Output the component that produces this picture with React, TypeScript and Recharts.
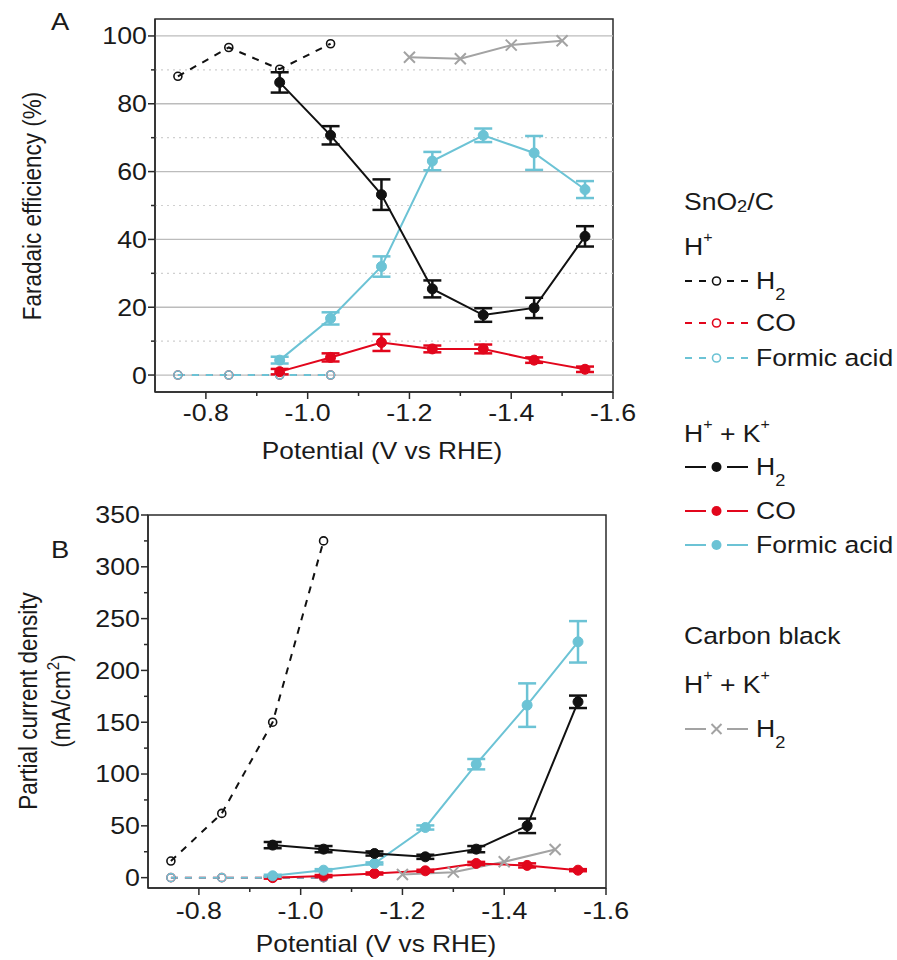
import React from "react";
import { LineChart, Line, XAxis, YAxis, ErrorBar, ReferenceLine, ReferenceArea } from "recharts";

const FONT = '"Liberation Sans", Arial, Helvetica, sans-serif';
const INK = "#1a1a1a";
const AXIS = "#2b2b2b";
const BLACK = "#111111";
const RED = "#e2061c";
const CYAN = "#6cc3d5";
const GREY = "#a3a3a3";
const GRID = "#bcbcbc";
const SX = 1.14; // the figure's lettering is a little wider than plain Arial

// potentials (V vs RHE)
const potentialAcid = [-0.745, -0.845, -0.945, -1.045];
const potentialK = [-0.945, -1.045, -1.145, -1.245, -1.345, -1.445, -1.545];
const potentialCarbon = [-1.2, -1.3, -1.4, -1.5];

const xTicks = [-0.8, -0.9, -1.0, -1.1, -1.2, -1.3, -1.4, -1.5, -1.6];
const feTicks = [0, 10, 20, 30, 40, 50, 60, 70, 80, 90, 100];
const feMajorGrid = [0, 20, 40, 60, 80, 100];
const feMinorGrid = [10, 30, 50, 70, 90];
const jTicks = [0, 25, 50, 75, 100, 125, 150, 175, 200, 225, 250, 275, 300, 325, 350];

// A - Faradaic efficiency (%)
const feH2Acid = [88.1, 96.6, 90.2, 97.7];
const feCOAcid = [0, 0, 0, 0];
const feFAAcid = [0, 0, 0, 0];
const feH2K = [86.3, 70.7, 53.2, 25.4, 17.7, 19.8, 40.9];
const feH2KErr = [3, 2.7, 4.5, 2.5, 2, 3, 3];
const feCOK = [1, 5.2, 9.6, 7.7, 7.7, 4.4, 1.7];
const feCOKErr = [0.8, 1.2, 2.5, 1, 1.3, 0.8, 0.8];
const feFAK = [4.4, 16.7, 32, 63.1, 70.7, 65.5, 54.7];
const feFAKErr = [1, 1.8, 3, 2.7, 2, 5, 2.5];
const feH2Carbon = [93.7, 93.3, 97.3, 98.6];

// B - partial current density (mA/cm2)
const jH2Acid = [16, 62, 150, 325];
const jCOAcid = [0, 0, 0, 0];
const jFAAcid = [0, 0, 0, 0];
const jH2K = [31.4, 27.5, 23.3, 20.1, 27.5, 50, 169.7];
const jH2KErr = [3, 3, 2, 2, 3, 7, 6];
const jCOK = [0, 1.5, 4, 6.6, 13.7, 11.8, 7.2];
const jCOKErr = [1, 1, 1, 1, 1.5, 2, 1];
const jFAK = [1.8, 7.2, 13.7, 48.4, 109.5, 166.5, 227.6];
const jFAKErr = [1, 1, 1, 2, 5, 21, 20];
const jH2Carbon = [3.1, 5.3, 15.3, 27.2];

const toRows = (xs: number[], ys: number[], errs?: number[]) =>
  xs.map((x, i) => ({ x, y: ys[i], err: errs ? errs[i] : 0 }));

const openDot = (color: string) => (p: any) => (
  <circle key={`o${p.index}`} cx={p.cx} cy={p.cy} r={4} fill="none" stroke={color} strokeWidth={1.6} />
);
const filledDot = (color: string) => (p: any) => (
  <circle key={`f${p.index}`} cx={p.cx} cy={p.cy} r={5} fill={color} stroke={color} strokeWidth={1} />
);
const crossDot = (color: string) => (p: any) => (
  <path
    key={`x${p.index}`}
    d={`M${p.cx - 5.5},${p.cy - 5.5}L${p.cx + 5.5},${p.cy + 5.5}M${p.cx + 5.5},${p.cy - 5.5}L${p.cx - 5.5},${p.cy + 5.5}`}
    stroke={color}
    strokeWidth={2}
    fill="none"
  />
);

// widened text, anchored at (x, y)
function WText({ x, y, size, anchor = "start", rotate = false, dy, children }: any) {
  const tf = `translate(${x},${y}) scale(${SX},1)${rotate ? " rotate(-90)" : ""}`;
  return (
    <text transform={tf} fontSize={size} textAnchor={anchor} dy={dy} fill={INK} fontFamily={FONT}>
      {children}
    </text>
  );
}

function renderXTick(p: any, labelDy: number) {
  const v = p.payload.value as number;
  const major = Math.round(Math.abs(v) * 10) % 2 === 0;
  return (
    <g key={`xt${v}`}>
      <line x1={p.x} x2={p.x} y1={p.y} y2={p.y + (major ? 7 : 4)} stroke={AXIS} strokeWidth={1.5} />
      {major && (
        <WText x={p.x} y={p.y + labelDy} size={23.5} anchor="middle">
          {v.toFixed(1)}
        </WText>
      )}
    </g>
  );
}

function renderYTick(p: any, majorStep: number) {
  const v = p.payload.value as number;
  const major = v % majorStep === 0;
  return (
    <g key={`yt${v}`}>
      <line x1={p.x} x2={p.x - (major ? 7 : 4)} y1={p.y} y2={p.y} stroke={AXIS} strokeWidth={1.5} />
      {major && (
        <WText x={p.x - 8} y={p.y} dy="0.36em" size={23.5} anchor="end">
          {v}
        </WText>
      )}
    </g>
  );
}

const axisLine = { stroke: AXIS, strokeWidth: 1.5 };

function PanelA() {
  return (
    <LineChart width={640} height={470} margin={{ top: 19, right: 27, bottom: 0, left: 0 }}>
      <XAxis
        dataKey="x"
        type="number"
        domain={[-1.6, -0.7]}
        reversed
        allowDataOverflow
        ticks={xTicks}
        interval={0}
        tick={(p: any) => renderXTick(p, 29)}
        tickLine={false}
        tickSize={0}
        tickMargin={0}
        axisLine={axisLine}
        height={78}
      />
      <YAxis
        type="number"
        domain={[-5, 105]}
        allowDataOverflow
        ticks={feTicks}
        interval={0}
        tick={(p: any) => renderYTick(p, 20)}
        tickLine={false}
        tickSize={0}
        tickMargin={0}
        axisLine={axisLine}
        width={155}
      />
      {feMajorGrid.map((v) => (
        <ReferenceLine key={`g${v}`} y={v} stroke={GRID} strokeWidth={1.3} />
      ))}
      {feMinorGrid.map((v) => (
        <ReferenceLine key={`m${v}`} y={v} stroke="#d0d0d0" strokeWidth={1.2} strokeDasharray="2 4" />
      ))}
      <ReferenceArea x1={-1.6} x2={-0.7} y1={-5} y2={105} fill="none" stroke={AXIS} strokeWidth={1.5} />

      {/* SnO2/C, H+ */}
      <Line data={toRows(potentialAcid, feCOAcid)} dataKey="y" stroke={RED} strokeWidth={2} strokeDasharray="7 7" dot={openDot(RED)} isAnimationActive={false} />
      <Line data={toRows(potentialAcid, feFAAcid)} dataKey="y" stroke={CYAN} strokeWidth={2} strokeDasharray="7 7" dot={openDot(CYAN)} isAnimationActive={false} />
      <Line data={toRows(potentialAcid, feH2Acid)} dataKey="y" stroke={BLACK} strokeWidth={2} strokeDasharray="7 7" dot={openDot(BLACK)} isAnimationActive={false} />

      {/* Carbon black, H+ + K+ */}
      <Line data={toRows(potentialCarbon, feH2Carbon)} dataKey="y" stroke={GREY} strokeWidth={2} dot={crossDot(GREY)} isAnimationActive={false} />

      {/* SnO2/C, H+ + K+ */}
      <Line data={toRows(potentialK, feCOK, feCOKErr)} dataKey="y" stroke={RED} strokeWidth={2} dot={filledDot(RED)} isAnimationActive={false}>
        <ErrorBar dataKey="err" direction="y" width={9} strokeWidth={2.5} stroke={RED} isAnimationActive={false} />
      </Line>
      <Line data={toRows(potentialK, feFAK, feFAKErr)} dataKey="y" stroke={CYAN} strokeWidth={2} dot={filledDot(CYAN)} isAnimationActive={false}>
        <ErrorBar dataKey="err" direction="y" width={9} strokeWidth={2.5} stroke={CYAN} isAnimationActive={false} />
      </Line>
      <Line data={toRows(potentialK, feH2K, feH2KErr)} dataKey="y" stroke={BLACK} strokeWidth={2} dot={filledDot(BLACK)} isAnimationActive={false}>
        <ErrorBar dataKey="err" direction="y" width={9} strokeWidth={2.5} stroke={BLACK} isAnimationActive={false} />
      </Line>
    </LineChart>
  );
}

function PanelB() {
  return (
    <LineChart width={640} height={480} margin={{ top: 35, right: 34, bottom: 0, left: 0 }}>
      <XAxis
        dataKey="x"
        type="number"
        domain={[-1.6, -0.7]}
        reversed
        allowDataOverflow
        ticks={xTicks}
        interval={0}
        tick={(p: any) => renderXTick(p, 31)}
        tickLine={false}
        tickSize={0}
        tickMargin={0}
        axisLine={axisLine}
        height={72}
      />
      <YAxis
        type="number"
        domain={[-10, 350]}
        allowDataOverflow
        ticks={jTicks}
        interval={0}
        tick={(p: any) => renderYTick(p, 50)}
        tickLine={false}
        tickSize={0}
        tickMargin={0}
        axisLine={axisLine}
        width={148}
      />
      <ReferenceArea x1={-1.6} x2={-0.7} y1={-10} y2={350} fill="none" stroke={AXIS} strokeWidth={1.5} />

      <Line data={toRows(potentialAcid, jCOAcid)} dataKey="y" stroke={RED} strokeWidth={2} strokeDasharray="7 7" dot={openDot(RED)} isAnimationActive={false} />
      <Line data={toRows(potentialAcid, jFAAcid)} dataKey="y" stroke={CYAN} strokeWidth={2} strokeDasharray="7 7" dot={openDot(CYAN)} isAnimationActive={false} />
      <Line data={toRows(potentialAcid, jH2Acid)} dataKey="y" stroke={BLACK} strokeWidth={2} strokeDasharray="7 7" dot={openDot(BLACK)} isAnimationActive={false} />

      <Line data={toRows(potentialCarbon, jH2Carbon)} dataKey="y" stroke={GREY} strokeWidth={2} dot={crossDot(GREY)} isAnimationActive={false} />

      <Line data={toRows(potentialK, jCOK, jCOKErr)} dataKey="y" stroke={RED} strokeWidth={2} dot={filledDot(RED)} isAnimationActive={false}>
        <ErrorBar dataKey="err" direction="y" width={9} strokeWidth={2.5} stroke={RED} isAnimationActive={false} />
      </Line>
      <Line data={toRows(potentialK, jFAK, jFAKErr)} dataKey="y" stroke={CYAN} strokeWidth={2} dot={filledDot(CYAN)} isAnimationActive={false}>
        <ErrorBar dataKey="err" direction="y" width={9} strokeWidth={2.5} stroke={CYAN} isAnimationActive={false} />
      </Line>
      <Line data={toRows(potentialK, jH2K, jH2KErr)} dataKey="y" stroke={BLACK} strokeWidth={2} dot={filledDot(BLACK)} isAnimationActive={false}>
        <ErrorBar dataKey="err" direction="y" width={9} strokeWidth={2.5} stroke={BLACK} isAnimationActive={false} />
      </Line>
    </LineChart>
  );
}

// legend symbol: dashed (open marker) or solid (filled marker / cross)
function LegendRow({ y, color, kind, label }: { y: number; color: string; kind: "dash" | "solid" | "cross"; label: React.ReactNode }) {
  const dash = kind === "dash" ? "7 7" : undefined;
  return (
    <g>
      <line x1={685} x2={706} y1={y} y2={y} stroke={color} strokeWidth={2} strokeDasharray={dash} />
      <line x1={727} x2={748} y1={y} y2={y} stroke={color} strokeWidth={2} strokeDasharray={dash} />
      {kind === "dash" && <circle cx={716.5} cy={y} r={4} fill="none" stroke={color} strokeWidth={1.6} />}
      {kind === "solid" && <circle cx={716.5} cy={y} r={5} fill={color} />}
      {kind === "cross" && (
        <path d={`M711.5,${y - 5}L721.5,${y + 5}M721.5,${y - 5}L711.5,${y + 5}`} stroke={color} strokeWidth={2} />
      )}
      <WText x={756} y={y + 8} size={23.3}>
        {label}
      </WText>
    </g>
  );
}

const H2 = (
  <>
    H<tspan fontSize={16} dy={11}>2</tspan>
  </>
);
const HK = (
  <>
    H<tspan fontSize={14} dy={-13}>+</tspan>
    <tspan dy={13}> + K</tspan>
    <tspan fontSize={14} dy={-13}>+</tspan>
  </>
);

function Overlay() {
  return (
    <svg width={897} height={960} style={{ position: "absolute", left: 0, top: 0, pointerEvents: "none" }}>
      <WText x={51} y={30} size={24}>A</WText>
      <WText x={51} y={558} size={24}>B</WText>

      <WText x={41} y={206} size={22.5} anchor="middle" rotate>
        Faradaic efficiency (%)
      </WText>
      <WText x={382} y={459} size={23} anchor="middle">
        Potential (V vs RHE)
      </WText>
      <WText x={37} y={701} size={22.5} anchor="middle" rotate>
        Partial current density
      </WText>
      <WText x={70} y={701} size={22.5} anchor="middle" rotate>
        (mA/cm<tspan fontSize={15} dy={-10}>2</tspan>
        <tspan dy={10}>)</tspan>
      </WText>
      <WText x={376} y={952} size={23} anchor="middle">
        Potential (V vs RHE)
      </WText>

      {/* legend */}
      <WText x={684} y={210} size={23.3}>
        SnO<tspan fontSize={16} dy={2}>2</tspan>
        <tspan dy={-2}>/C</tspan>
      </WText>
      <WText x={684} y={255} size={23.3}>
        H<tspan fontSize={14} dy={-13}>+</tspan>
      </WText>
      <LegendRow y={281} color={BLACK} kind="dash" label={H2} />
      <LegendRow y={323} color={RED} kind="dash" label="CO" />
      <LegendRow y={358} color={CYAN} kind="dash" label="Formic acid" />

      <WText x={684} y={442} size={23.3}>{HK}</WText>
      <LegendRow y={467} color={BLACK} kind="solid" label={H2} />
      <LegendRow y={511} color={RED} kind="solid" label="CO" />
      <LegendRow y={545} color={CYAN} kind="solid" label="Formic acid" />

      <WText x={684} y={644} size={23.3}>Carbon black</WText>
      <WText x={684} y={693} size={23.3}>{HK}</WText>
      <LegendRow y={729} color={GREY} kind="cross" label={H2} />
    </svg>
  );
}

export default function App() {
  return (
    <div style={{ position: "absolute", left: 0, top: 0, width: 897, height: 960, background: "#fff", fontFamily: FONT }}>
      <div style={{ position: "absolute", left: 0, top: 0 }}>
        <PanelA />
      </div>
      <div style={{ position: "absolute", left: 0, top: 480 }}>
        <PanelB />
      </div>
      <Overlay />
    </div>
  );
}
